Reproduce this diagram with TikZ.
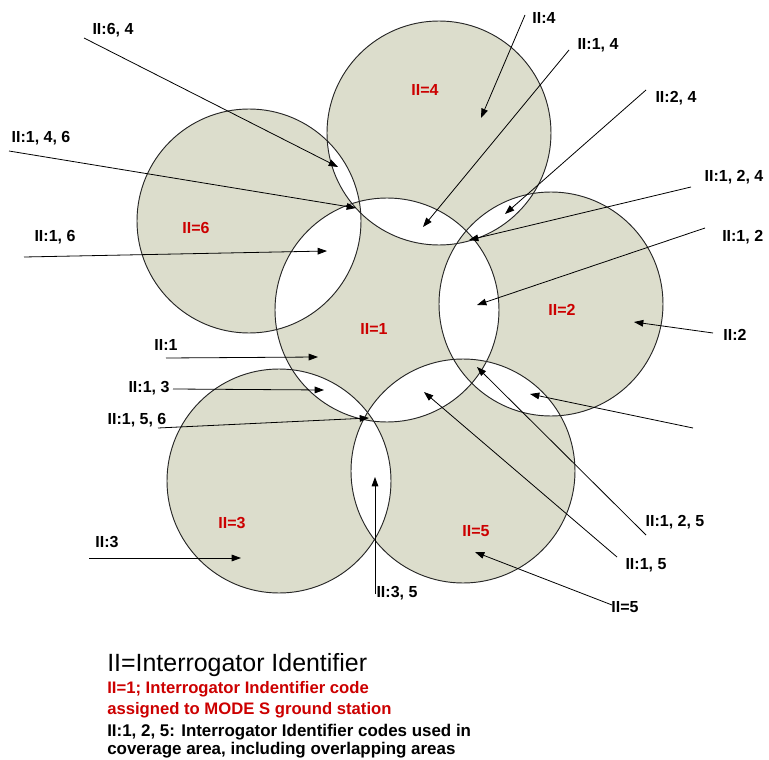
\documentclass[tikz,border=0pt]{standalone}
\usepackage{fontspec}
\setmainfont{Liberation Sans}
\usetikzlibrary{arrows.meta}
\definecolor{zonefill}{RGB}{220,221,204}
\definecolor{idred}{RGB}{204,0,0}
\begin{document}
\begin{tikzpicture}[x=0.75pt,y=-0.75pt,
  lbl/.style={font=\fontsize{12}{14}\selectfont\bfseries, inner sep=0pt},
  idlbl/.style={lbl, text=idred},
  ptr/.style={draw=black, line width=0.6pt, -{Triangle[length=7pt,width=5pt]}},
  ring/.style={draw=black!85, line width=0.7pt},
  legbig/.style={anchor=west, inner sep=0pt, font=\fontsize{18.7}{20}\selectfont},
  legred/.style={anchor=west, inner sep=0pt, text=idred, font=\fontsize{12.5}{15}\selectfont\bfseries},
  legblk/.style={anchor=west, inner sep=0pt, font=\fontsize{12.7}{15}\selectfont\bfseries}]
\useasboundingbox (0,0) rectangle (769,760);
% circle centres
\coordinate (c1) at (387,310);
\coordinate (c2) at (551,304);
\coordinate (c3) at (279,481);
\coordinate (c4) at (439,133);
\coordinate (c5) at (463,471);
\coordinate (c6) at (249,221);
\fill[zonefill, even odd rule] (c1) circle[radius=84pt] (c2) circle[radius=84pt]
  (c3) circle[radius=84pt] (c4) circle[radius=84pt] (c5) circle[radius=84pt]
  (c6) circle[radius=84pt];
\foreach \c in {c1,c2,c3,c4,c5,c6}{\draw[ring] (\c) circle[radius=84pt];}
% identifiers
\node[idlbl] (id4) at (425,90) {II=4};
\node[idlbl] (id6) at (196,228) {II=6};
\node[idlbl] (id1) at (374,329) {II=1};
\node[idlbl] (id2) at (562,310) {II=2};
\node[idlbl] (id3) at (232,523) {II=3};
\node[idlbl] (id5) at (476,531) {II=5};
% labels
\node[lbl] (l64) at (113,30) {II:6, 4};
\node[lbl] (l146) at (41,138) {II:1, 4, 6};
\node[lbl] (l16) at (55,237) {II:1, 6};
\node[lbl] (l4) at (544,18) {II:4};
\node[lbl] (l14) at (598,45) {II:1, 4};
\node[lbl] (l24) at (676,98) {II:2, 4};
\node[lbl] (l124) at (734,177) {II:1, 2, 4};
\node[lbl, anchor=west] (l12) at (722,237) {II:1, 2};
\node[lbl] (l2) at (735,335) {II:2};
\node[lbl] (l125) at (675,522) {II:1, 2, 5};
\node[lbl] (l15) at (646,565) {II:1, 5};
\node[lbl] (l5) at (625,607) {II=5};
\node[lbl] (l35) at (397,593) {II:3, 5};
\node[lbl] (l3) at (107,542) {II:3};
\node[lbl] (l156) at (137,420) {II:1, 5, 6};
\node[lbl] (l13) at (149,388) {II:1, 3};
\node[lbl] (l1) at (166,345) {II:1};
% pointer start / end points
\coordinate (s64) at (84,38);    \coordinate (t64) at (338,167);
\coordinate (s146) at (9,151);   \coordinate (t146) at (356,208);
\coordinate (s16) at (24,257);   \coordinate (t16) at (327,251);
\coordinate (s4) at (525,15);    \coordinate (t4) at (481,118);
\coordinate (s14) at (569,50);   \coordinate (t14) at (423,227);
\coordinate (s24) at (646,90);   \coordinate (t24) at (505,214);
\coordinate (s124) at (691,187); \coordinate (t124) at (469,240);
\coordinate (s12) at (705,228);  \coordinate (t12) at (477,305);
\coordinate (s2) at (713,333);   \coordinate (t2) at (634,322);
\coordinate (sx) at (693,428);   \coordinate (tx) at (530,394);
\coordinate (s125) at (646,535); \coordinate (t125) at (477,367);
\coordinate (s15) at (617,557);  \coordinate (t15) at (424,392);
\coordinate (s5) at (612,605);   \coordinate (t5) at (475,552);
\coordinate (s35) at (375,594);  \coordinate (t35) at (375,477);
\coordinate (s3) at (89,558);    \coordinate (t3) at (241,558);
\coordinate (s156) at (158,428); \coordinate (t156) at (369,418);
\coordinate (s13) at (173,389);  \coordinate (t13) at (324,390);
\coordinate (s1) at (166,358);   \coordinate (t1) at (318,357);
\foreach \p in {64,146,16,4,14,24,124,12,2,x,125,15,5,35,3,156,13,1}{
  \draw[ptr] (s\p) -- (t\p);}
% legend
\node[legbig] (leg1) at (107,665) {II=Interrogator Identifier};
\node[legred] (leg2) at (107,689) {II=1; Interrogator Indentifier code};
\node[legred] (leg3) at (107,710) {assigned to MODE S ground station};
\node[legblk] (leg4) at (107,732) {II:1, 2, 5: Interrogator Identifier codes used in};
\node[legblk] (leg5) at (107,750) {coverage area, including overlapping areas};
\end{tikzpicture}
\end{document}
